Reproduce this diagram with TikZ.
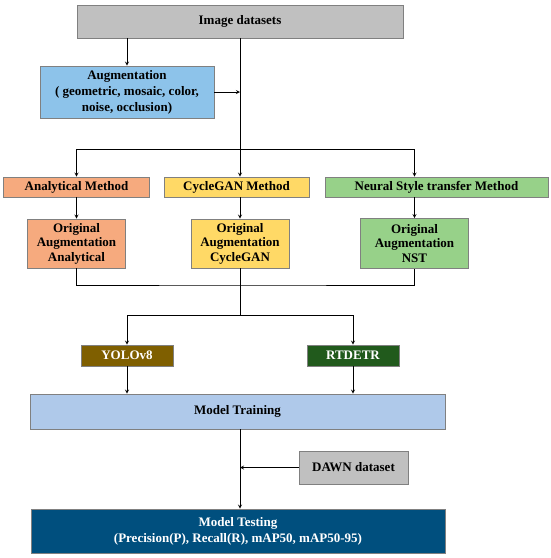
\documentclass[tikz,border=0pt]{standalone}
\usepackage{fontspec}
\setmainfont{Liberation Serif}
\usepackage{tikz}
\usetikzlibrary{shapes.geometric, arrows, positioning}
\definecolor{setgray}{HTML}{C0C0C0}
\definecolor{augblue}{HTML}{8DC3EA}
\definecolor{anaorange}{HTML}{F6AA7E}
\definecolor{cycyellow}{HTML}{FFD966}
\definecolor{nstgreen}{HTML}{97D189}
\definecolor{yolobrown}{HTML}{7F5F00}
\definecolor{detrgreen}{HTML}{215A1C}
\definecolor{trainblue}{HTML}{AFC9EA}
\definecolor{testblue}{HTML}{004F7E}
\tikzstyle{stage} = [rectangle, draw=black!50, line width=0.8pt, inner sep=0pt, align=center, font=\bfseries\fontsize{13}{14.5}\selectfont]
\tikzstyle{arrow} = [line width=0.8pt,->,>=stealth]
\tikzstyle{line} = [line width=0.8pt]

\begin{document}
\begin{tikzpicture}[x=1pt, y=1pt]
    \useasboundingbox (0,0) rectangle (550,-558);
    \node (Img) [stage, fill=setgray, minimum width=326pt, minimum height=33pt] at (240,-21.5) {Image datasets};
    \node (Aug) [stage, fill=augblue, minimum width=174pt, minimum height=52pt, node distance=70.5pt, below of=Img, xshift=-113pt, font=\bfseries\fontsize{13}{16}\selectfont] {Augmentation\\( geometric, mosaic, color,\\noise, occlusion)};
    \node (AnaMethod) [stage, fill=anaorange, minimum width=146pt, minimum height=20pt, node distance=165.5pt, below of=Img, xshift=-163.5pt] {Analytical Method};
    \node (CycMethod) [stage, fill=cycyellow, minimum width=145pt, minimum height=20pt, node distance=165.5pt, below of=Img, xshift=-3.5pt] {CycleGAN Method};
    \node (NstMethod) [stage, fill=nstgreen, minimum width=223pt, minimum height=20pt, node distance=165.5pt, below of=Img, xshift=196.5pt] {Neural Style transfer Method};
    \node (AnaAug) [stage, fill=anaorange, minimum width=98pt, minimum height=49pt, node distance=56.5pt, below of=AnaMethod] {Original\\Augmentation\\Analytical};
    \node (CycAug) [stage, fill=cycyellow, minimum width=98pt, minimum height=49pt, node distance=56.5pt, below of=CycMethod, xshift=3.5pt] {Original\\Augmentation\\CycleGAN};
    \node (NstAug) [stage, fill=nstgreen, minimum width=108pt, minimum height=50pt, node distance=56.5pt, below of=NstMethod, xshift=-22pt] {Original\\Augmentation\\NST};
    \node (Yolo) [stage, fill=yolobrown, text=white, minimum width=92pt, minimum height=21pt, node distance=112pt, below of=CycAug, xshift=-113pt] {YOLOv8};
    \node (Detr) [stage, fill=detrgreen, text=white, minimum width=92pt, minimum height=21pt, node distance=112pt, below of=CycAug, xshift=113pt] {RTDETR};
    \node (Train) [stage, fill=trainblue, minimum width=415pt, minimum height=35pt, node distance=168pt, below of=CycAug, xshift=-2.5pt] {Model Training};
    \node (Dawn) [stage, fill=setgray, minimum width=109pt, minimum height=33pt, node distance=56pt, below of=Train, xshift=116pt] {DAWN dataset};
    \node (Test) [stage, fill=testblue, text=white, minimum width=414pt, minimum height=44pt, node distance=119.5pt, below of=Train, xshift=0.5pt, font=\bfseries\fontsize{13}{16}\selectfont] {Model Testing\\(Precision(P), Recall(R), mAP50, mAP50-95)};
    \coordinate (Split) at (240,-149);
    \coordinate (Merge) at (240,-285);
    \coordinate (Fork) at (240,-315);
    \draw [arrow] (Img.south -| Aug) -- (Aug);
    \draw [line] (Img) -- (Split);
    \draw [arrow] (Aug) -- (Aug -| Split);
    \draw [arrow] (Split) -| (AnaMethod);
    \draw [arrow] (Split) -- (Split |- CycMethod.north);
    \draw [arrow] (Split) -| (NstMethod.north -| NstAug);
    \draw [arrow] (AnaMethod) -- (AnaAug);
    \draw [arrow] (CycAug.north |- CycMethod.south) -- (CycAug);
    \draw [arrow] (NstAug.north |- NstMethod.south) -- (NstAug);
    \draw [line] (AnaAug) |- (Merge) -| (NstAug);
    \draw [line] (CycAug) -- (Fork);
    \draw [arrow] (Fork) -| (Yolo);
    \draw [arrow] (Fork) -| (Detr);
    \draw [arrow] (Yolo) -- (Yolo |- Train.north);
    \draw [arrow] (Detr) -- (Detr |- Train.north);
    \draw [arrow] (Fork |- Train.south) -- (Fork |- Test.north);
    \draw [arrow] (Dawn) -- (Dawn -| Fork);
\end{tikzpicture}
\end{document}
